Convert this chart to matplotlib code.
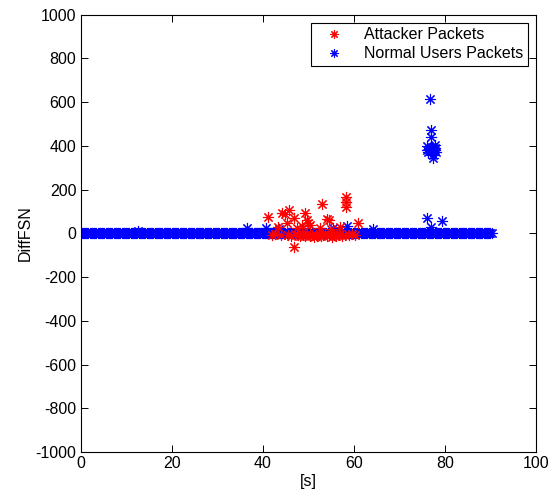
import numpy as np
import matplotlib
matplotlib.use("Agg")
import matplotlib.pyplot as plt

plt.rcParams["font.family"] = ["Liberation Sans", "DejaVu Sans"]
plt.rcParams["axes.unicode_minus"] = False

#
# Data
#
# normal users: regular packets with DiffFSN = 0 from 0 s to 90 s
normal_t0, normal_t1, normal_dt = 0.0, 90.5, 0.25
# normal users: points away from the zero line
normal_x = [12.7, 36.5, 40.7, 43.6, 55.5, 58.6, 64.3,
            76.7, 76.9, 76.9, 76.1, 76.0, 76.6, 77.0, 77.3, 77.6, 77.8,
            77.8, 77.5, 77.3, 76.8, 76.4, 77.1, 77.9, 78.0,
            76.0, 79.3, 77.0]
normal_y = [12, 25, 22, 20, 22, 35, 20,
            612, 472, 441, 399, 380, 385, 390, 388, 382, 392,
            403, 342, 360, 375, 370, 395, 380, 372,
            68, 56, 28]

# attacker packets
attack_x = [41.2, 44.3, 45.0, 45.8, 45.3, 46.9, 46.9, 49.4, 49.7, 50.0,
            53.0, 54.2, 54.5, 58.4, 58.2, 58.4, 60.9, 52.6, 55.0, 57.0,
            48.6, 43.4, 50.5, 47.5,
            42.0, 42.8, 44.0, 45.5, 46.2, 47.0, 47.8, 48.3, 48.9, 49.3,
            49.8, 50.3, 50.8, 51.2, 51.6, 52.0, 52.4, 52.9, 53.3, 53.7,
            54.1, 54.6, 55.2, 55.7, 56.2, 56.8, 57.5, 58.0, 59.0, 59.6, 60.2]
attack_y = [75, 94, 88, 106, 48, 68, -64, 94, 61, 45,
            134, 64, 60, 167, 144, 121, 48, 22, 20, 30,
            33, 30, 38, 25,
            -8, -5, -10, -6, -12, -4, -9, -14, -7, -11,
            -5, -13, -9, -15, -6, -12, -8, -14, -10, -5,
            -12, -7, -15, -9, -11, -6, -13, -8, -10, -5, -7]

base_t = np.arange(normal_t0, normal_t1, normal_dt)
base_y = np.zeros_like(base_t)

fig = plt.figure(figsize=(5.5, 4.94), dpi=100)
ax = fig.add_axes([0.1464, 0.085, 0.828, 0.8856])

star = (8, 2, 0)
kw = dict(ls="none", marker=star, ms=8, mew=0.8)
ax.plot(base_t, base_y, color="b", **kw)
hb, = ax.plot(normal_x, normal_y, color="b", **kw)
hr, = ax.plot(attack_x, attack_y, color="r", **kw)

ax.set_xlim(0, 100)
ax.set_ylim(-1000, 1000)
ax.set_xticks(np.arange(0, 101, 20))
ax.set_yticks(np.arange(-1000, 1001, 200))
ax.tick_params(direction="in", top=True, right=True, length=5,
               width=0.7, labelsize=11.5, pad=3)
for s in ax.spines.values():
    s.set_linewidth(0.8)
ax.set_xlabel("[s]", fontsize=11.5, labelpad=2)
ax.set_ylabel("DiffFSN", fontsize=11.5, labelpad=2)

leg = ax.legend([hr, hb], ["Attacker Packets", "Normal Users Packets"],
                loc="upper right", fontsize=11.5, fancybox=False,
                edgecolor="k", framealpha=1, borderpad=0.3,
                handletextpad=0.8, handlelength=2.2, borderaxespad=0.5,
                labelspacing=0.25, markerscale=0.75)
leg.get_frame().set_linewidth(0.8)

fig.savefig("out.png", dpi=100)
